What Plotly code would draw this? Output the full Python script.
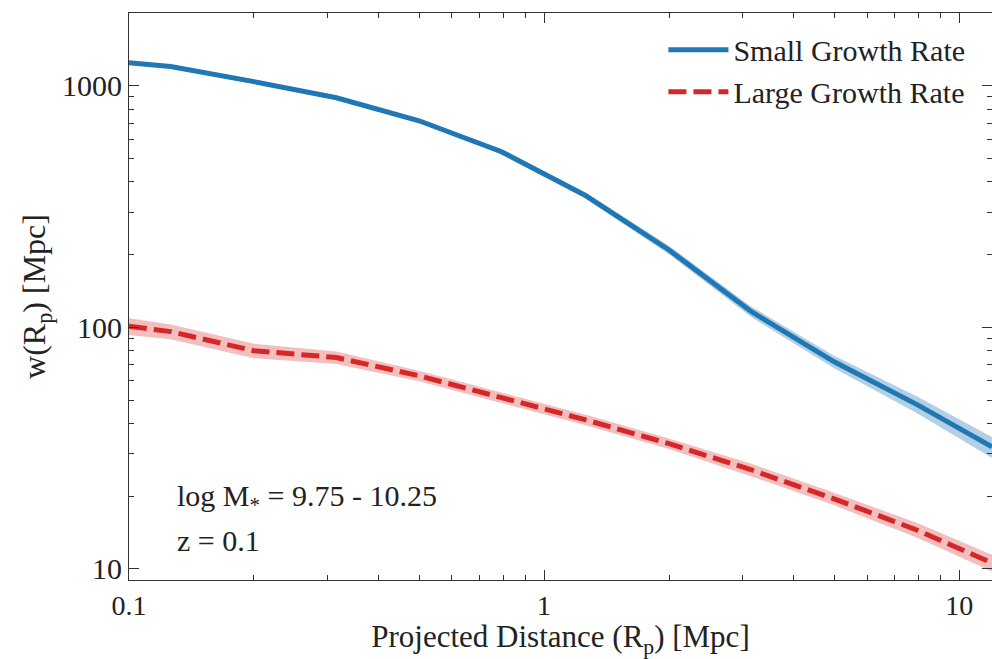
import plotly.graph_objects as go
import numpy as np

# Data
rp = [0.1, 0.126, 0.2, 0.316, 0.5, 0.79, 1.26, 2.0, 3.16, 5.0, 7.9, 12.0]
w_small = [1245, 1200, 1040, 892, 716, 533, 351, 209, 116, 72, 48, 32]
w_large = [101, 96, 80, 75, 63, 51, 41.4, 33, 25.7, 19.5, 14.5, 10.6]
err_small = [0.02, 0.02, 0.02, 0.02, 0.02, 0.025, 0.03, 0.04, 0.05, 0.06, 0.08, 0.10]
err_large = [0.08, 0.07, 0.07, 0.06, 0.05, 0.05, 0.05, 0.05, 0.06, 0.06, 0.07, 0.08]

x_ticks = [0.1, 1, 10]
x_ticklabels = ["0.1", "1", "10"]
y_ticks = [10, 100, 1000]
y_ticklabels = ["10", "100", "1000"]

FONT = "Liberation Serif"
BLUE = "#1f77b4"
RED = "#d62728"
TXT = "#222"

fig = go.Figure()

def band(x, y, e, color):
    up = [v * (1 + f) for v, f in zip(y, e)]
    lo = [v * (1 - f) for v, f in zip(y, e)]
    fig.add_trace(go.Scatter(x=x, y=up, mode="lines", line=dict(width=0),
                             showlegend=False, hoverinfo="skip"))
    fig.add_trace(go.Scatter(x=x, y=lo, mode="lines", line=dict(width=0),
                             fill="tonexty", fillcolor=color,
                             showlegend=False, hoverinfo="skip"))

band(rp, w_small, err_small, "rgba(31,119,180,0.35)")
band(rp, w_large, err_large, "rgba(214,39,40,0.3)")

fig.add_trace(go.Scatter(x=rp, y=w_small, mode="lines", name="Small Growth Rate",
                         line=dict(color=BLUE, width=5)))
fig.add_trace(go.Scatter(x=rp, y=w_large, mode="lines", name="Large Growth Rate",
                         line=dict(color=RED, width=5, dash="18px,7px")))

minor_x = [m * 10.0 ** d for d in (-1, 0, 1) for m in range(2, 10)]
minor_y = [m * 10.0 ** d for d in (0, 1, 2, 3) for m in range(2, 10)]

axis_common = dict(
    type="log", showgrid=False, zeroline=False,
    showline=True, linecolor="#333", linewidth=1.2, mirror="allticks",
    ticks="inside", ticklen=10, tickwidth=1.2, tickcolor="#333",
)

fig.update_xaxes(
    **axis_common,
    tickfont=dict(family=FONT, size=28, color=TXT),
    range=[-1, np.log10(12)],
    tickmode="array", tickvals=x_ticks, ticktext=x_ticklabels,
    minor=dict(ticks="inside", ticklen=5, tickwidth=1, tickcolor="#333",
               tickmode="array", tickvals=minor_x),
    title=dict(text="Projected Distance (R<sub>p</sub>) [Mpc]",
               font=dict(family=FONT, size=31, color=TXT), standoff=10),
)
fig.update_yaxes(
    **axis_common,
    tickfont=dict(family=FONT, size=30, color=TXT),
    range=[np.log10(9), np.log10(2000)],
    tickmode="array", tickvals=y_ticks, ticktext=y_ticklabels,
    minor=dict(ticks="inside", ticklen=5, tickwidth=1, tickcolor="#333",
               tickmode="array", tickvals=minor_y),
    title=dict(text="w(R<sub>p</sub>) [Mpc]",
               font=dict(family=FONT, size=32, color=TXT), standoff=6),
)

fig.add_annotation(xref="paper", yref="paper", x=0.053, y=0.145,
                   xanchor="left", yanchor="middle", showarrow=False,
                   text="log M<sub>*</sub> = 9.75 - 10.25",
                   font=dict(family=FONT, size=30, color=TXT))
fig.add_annotation(xref="paper", yref="paper", x=0.053, y=0.069,
                   xanchor="left", yanchor="middle", showarrow=False,
                   text="z = 0.1",
                   font=dict(family=FONT, size=30, color=TXT))

fig.update_layout(
    width=992, height=659,
    margin=dict(l=129, r=0, t=13, b=79),
    plot_bgcolor="white", paper_bgcolor="white",
    legend=dict(x=0.975, y=0.981, xanchor="right", yanchor="top",
                traceorder="normal",
                bgcolor="rgba(0,0,0,0)", borderwidth=0,
                font=dict(family=FONT, size=30, color=TXT),
                itemwidth=60),
)

fig.write_html("out.html")
